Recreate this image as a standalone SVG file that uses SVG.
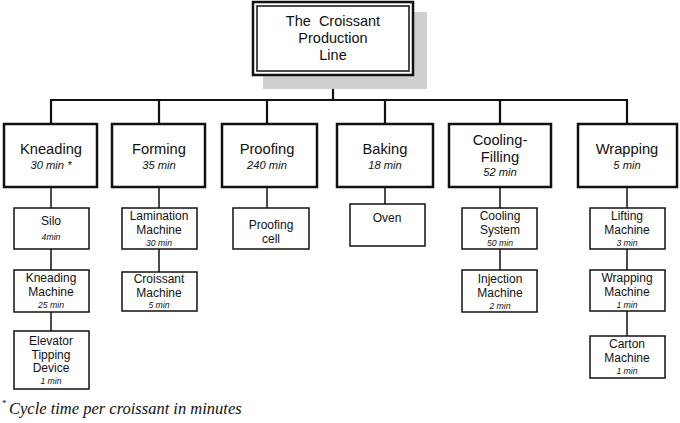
<svg xmlns="http://www.w3.org/2000/svg" width="680" height="423" viewBox="0 0 680 423">
<style>
text{font-family:"Liberation Sans",Arial,sans-serif;fill:#111;text-anchor:middle}
.t{font-size:14.5px}
.n{font-size:14.7px}
.ni{font-size:11.2px;font-style:italic}
.s{font-size:12px}
.si{font-size:8.7px;font-style:italic}
.b1{fill:#fff;stroke:#111;stroke-width:2.5}
.b2{fill:#fff;stroke:#111;stroke-width:1.5}
.c1{stroke:#111;stroke-width:2.2;fill:none}
.c2{stroke:#111;stroke-width:1.5;fill:none}
</style>
<rect width="680" height="423" fill="#fff"/>
<g id="connectors">
<path class="c1" d="M333 76V100M50 100H628M51 100V124M159 100V124M267 100V124M385 100V124M500 100V124M627 100V124"/>
<path class="c2" d="M51 187V208M51 249V270M51 312V331M159 187V208M159 249V272M267 187V208M385 187V204M500 187V208M500 249V270M627 187V208M627 249V270M627 311V336"/>
</g>
<g id="title">
<rect x="263" y="12" width="164" height="77" fill="#cfcfcf"/>
<rect x="253" y="2" width="160" height="73" fill="#fff" stroke="#111" stroke-width="2.5"/>
<rect x="257" y="6" width="152" height="65" fill="none" stroke="#111" stroke-width="1.5"/>
<text class="t" x="333" y="26" style="white-space:pre">The  Croissant</text>
<text class="t" x="333" y="43">Production</text>
<text class="t" x="333" y="60">Line</text>
</g>
<g id="kneading"><rect class="b1" x="4" y="124" width="93" height="63"/><text class="n" x="51" y="154">Kneading</text><text class="ni" x="51" y="169">30 min *</text></g>
<g id="forming"><rect class="b1" x="112" y="124" width="93" height="63"/><text class="n" x="159" y="154">Forming</text><text class="ni" x="159" y="169">35 min</text></g>
<g id="proofing"><rect class="b1" x="222" y="124" width="95" height="63"/><text class="n" x="267" y="154">Proofing</text><text class="ni" x="267" y="169">240 min</text></g>
<g id="baking"><rect class="b1" x="337" y="124" width="96" height="63"/><text class="n" x="385" y="154">Baking</text><text class="ni" x="385" y="169">18 min</text></g>
<g id="cooling"><rect class="b1" x="449" y="124" width="102" height="63"/><text class="n" x="500" y="145">Cooling-</text><text class="n" x="500" y="162">Filling</text><text class="ni" x="500" y="176">52 min</text></g>
<g id="wrapping"><rect class="b1" x="578" y="124" width="99" height="63"/><text class="n" x="627" y="154">Wrapping</text><text class="ni" x="627" y="169">5 min</text></g>
<g id="silo"><rect class="b2" x="14" y="208" width="75" height="41"/><text class="s" x="51" y="225">Silo</text><text class="si" x="51" y="240">4min</text></g>
<g id="kneading-machine"><rect class="b2" x="14" y="270" width="75" height="42"/><text class="s" x="51" y="282">Kneading</text><text class="s" x="51" y="296">Machine</text><text class="si" x="51" y="308">25 min</text></g>
<g id="elevator"><rect class="b2" x="14" y="331" width="75" height="58"/><text class="s" x="51" y="345">Elevator</text><text class="s" x="51" y="359">Tipping</text><text class="s" x="51" y="372">Device</text><text class="si" x="51" y="384">1 min</text></g>
<g id="lamination"><rect class="b2" x="122" y="208" width="75" height="41"/><text class="s" x="159" y="220">Lamination</text><text class="s" x="159" y="234">Machine</text><text class="si" x="159" y="246">30 min</text></g>
<g id="croissant-machine"><rect class="b2" x="122" y="272" width="75" height="39"/><text class="s" x="159" y="283">Croissant</text><text class="s" x="159" y="297">Machine</text><text class="si" x="159" y="308">5 min</text></g>
<g id="proofing-cell"><rect class="b2" x="233" y="208" width="76" height="41"/><text class="s" x="271" y="229">Proofing</text><text class="s" x="271" y="243">cell</text></g>
<g id="oven"><rect class="b2" x="350" y="204" width="75" height="42"/><text class="s" x="387" y="222">Oven</text></g>
<g id="cooling-system"><rect class="b2" x="462" y="208" width="75" height="41"/><text class="s" x="500" y="220">Cooling</text><text class="s" x="500" y="234">System</text><text class="si" x="500" y="246">50 min</text></g>
<g id="injection"><rect class="b2" x="462" y="270" width="75" height="42"/><text class="s" x="500" y="283">Injection</text><text class="s" x="500" y="297">Machine</text><text class="si" x="500" y="309">2 min</text></g>
<g id="lifting"><rect class="b2" x="590" y="208" width="75" height="41"/><text class="s" x="627" y="220">Lifting</text><text class="s" x="627" y="234">Machine</text><text class="si" x="627" y="246">3 min</text></g>
<g id="wrapping-machine"><rect class="b2" x="590" y="270" width="75" height="41"/><text class="s" x="627" y="282">Wrapping</text><text class="s" x="627" y="296">Machine</text><text class="si" x="627" y="308">1 min</text></g>
<g id="carton"><rect class="b2" x="590" y="336" width="75" height="42"/><text class="s" x="627" y="348">Carton</text><text class="s" x="627" y="362">Machine</text><text class="si" x="627" y="374">1 min</text></g>
<g id="footnote"><text x="2" y="406" style="font-family:'Liberation Serif','Times New Roman',serif;font-size:9px;text-anchor:start">*</text><text x="9" y="414" style="font-family:'Liberation Serif','Times New Roman',serif;font-size:16.5px;font-style:italic;text-anchor:start">Cycle time per croissant in minutes</text></g>
</svg>
